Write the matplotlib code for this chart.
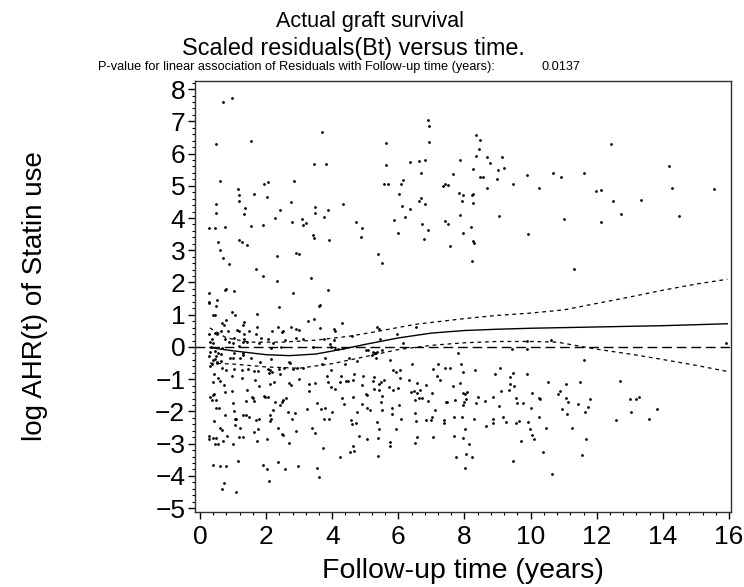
import matplotlib
matplotlib.use("Agg")
import matplotlib.pyplot as plt
from matplotlib import font_manager
from matplotlib.ticker import MultipleLocator

_names = {f.name for f in font_manager.fontManager.ttflist}
NARROW = "Liberation Sans Narrow" in _names
BASE = "Liberation Sans"
TITLE_FONT = "Liberation Sans Narrow" if NARROW else BASE

plt.rcParams["font.family"] = [BASE, "DejaVu Sans"]

# ---- data -----------------------------------------------------------------
points = [
    # upper cluster, left
    (0.69, 7.60), (0.98, 7.73), (0.47, 6.29), (1.55, 6.40), (3.70, 6.68), (3.44, 5.69), (3.82, 5.67),
    (0.60, 5.14), (1.93, 5.05), (2.06, 5.11), (2.84, 5.14), (1.14, 4.89), (1.19, 4.72), (1.64, 4.73),
    (2.02, 4.64), (0.48, 4.42), (1.18, 4.52), (2.76, 4.49), (3.49, 4.35), (4.32, 4.42), (1.37, 4.30),
    (2.43, 4.24), (3.87, 4.24), (0.49, 4.15), (1.34, 4.11), (3.48, 4.15), (3.74, 4.02), (2.27, 4.00),
    (3.10, 3.98), (2.78, 3.88), (3.20, 3.84), (4.72, 3.87), (0.27, 3.70), (0.46, 3.68), (0.75, 3.72),
    (1.53, 3.75), (1.90, 3.78), (3.11, 3.77), (4.89, 3.70),
    # upper cluster, middle
    (6.91, 7.04), (6.92, 6.84), (5.64, 6.32), (6.94, 6.35), (8.36, 6.56), (8.46, 6.41), (8.45, 6.15),
    (8.36, 5.91), (8.68, 5.90), (9.14, 5.88), (7.85, 5.80), (6.34, 5.74), (6.63, 5.77), (6.81, 5.81),
    (8.76, 5.71), (5.64, 5.63), (8.27, 5.51), (9.02, 5.49), (9.21, 5.54), (6.69, 5.39), (7.64, 5.36),
    (8.48, 5.27), (8.55, 5.28), (9.89, 5.32), (10.69, 5.39), (6.14, 5.19), (8.99, 5.20), (5.56, 5.07),
    (5.69, 5.07), (6.09, 5.05), (7.41, 5.07), (7.35, 4.99), (7.51, 5.02), (9.47, 5.04), (8.68, 4.94),
    (10.24, 4.93), (6.02, 4.76), (7.83, 4.79), (7.95, 4.72), (8.25, 4.75), (8.23, 4.71), (6.68, 4.63),
    (6.63, 4.53), (6.80, 4.43), (7.92, 4.52), (8.27, 4.47), (6.10, 4.37), (6.34, 4.27), (7.85, 4.10),
    (9.03, 4.05), (6.21, 4.03), (5.87, 3.94), (7.41, 3.91), (7.50, 3.82), (6.72, 3.80), (8.20, 3.72),
    (6.90, 3.63),
    # upper cluster, right
    (12.43, 6.30), (14.20, 5.62), (10.91, 5.27), (11.61, 5.39), (11.98, 4.84), (12.13, 4.86),
    (14.28, 4.94), (15.55, 4.90), (12.48, 4.52), (13.34, 4.57), (12.72, 4.13), (14.48, 4.07),
    (11.00, 3.96), (12.13, 3.89),
    # middle band, left
    (0.55, 3.26), (1.19, 3.31), (1.28, 3.26), (1.41, 3.15), (3.42, 3.47), (3.45, 3.39), (3.89, 3.31),
    (4.86, 3.41), (0.62, 3.00), (0.69, 2.77), (0.87, 2.58), (2.34, 2.83), (2.91, 2.90), (3.00, 2.87),
    (1.69, 2.41), (1.90, 2.20), (2.34, 2.05), (3.36, 2.13), (3.86, 1.77), (0.79, 1.80), (0.76, 1.77),
    (1.02, 1.74), (0.28, 1.67), (2.80, 1.66), (0.27, 1.40), (0.28, 1.35), (0.51, 1.45), (0.50, 1.27),
    (2.40, 1.23), (3.60, 1.26), (3.63, 1.29), (0.40, 0.99), (0.45, 0.99), (0.96, 1.07), (1.05, 1.00),
    (1.73, 1.03), (0.80, 0.85), (3.27, 0.81), (3.45, 0.86), (4.30, 0.75), (0.67, 0.73), (1.34, 0.76),
    (1.29, 0.68), (0.72, 0.68), (1.72, 0.62), (2.35, 0.62), (2.76, 0.62), (2.91, 0.57), (3.01, 0.54),
    (3.63, 0.59), (4.04, 0.56), (4.08, 0.49), (0.63, 0.51), (0.28, 0.39), (0.45, 0.44), (0.51, 0.41),
    (1.11, 0.54), (1.17, 0.51), (0.84, 0.49), (1.47, 0.49), (2.17, 0.51), (2.52, 0.51), (2.47, 0.45),
    (1.32, 0.39), (1.70, 0.41), (1.34, 0.24), (1.41, 0.16), (1.04, 0.28), (0.75, 0.26), (0.35, 0.24),
    (1.84, 0.28), (2.05, 0.26), (2.58, 0.22), (2.91, 0.29), (3.11, 0.26), (3.76, 0.26), (4.06, 0.23),
    (4.61, 0.34), (0.89, 0.14), (0.99, 0.13), (0.40, 0.12), (0.29, 0.14), (1.79, 0.13), (1.31, 0.14),
    (2.21, 0.13), (0.33, 0.00), (1.17, 0.04), (0.66, -0.03), (2.14, -0.02), (2.45, -0.01), (3.41, 0.00),
    (3.94, 0.08), (3.97, -0.01), (4.07, -0.06), (4.16, -0.07), (4.33, -0.03), (5.01, -0.11),
    (5.07, -0.08), (5.24, -0.16), (5.30, -0.19), (0.31, -0.15), (0.45, -0.13), (0.54, -0.18),
    (0.63, -0.23), (0.27, -0.27), (0.50, -0.27), (1.03, -0.20), (1.29, -0.20), (1.31, -0.25),
    (0.45, -0.38), (0.40, -0.40), (0.90, -0.34), (0.99, -0.34), (1.22, -0.33), (1.54, -0.33),
    (0.64, -0.45), (0.53, -0.48), (1.83, -0.46), (2.14, -0.38), (2.68, -0.46), (2.71, -0.51),
    (3.79, -0.34), (4.52, -0.33), (4.74, -0.44), (5.19, -0.25), (0.31, -0.59), (0.37, -0.54),
    (0.51, -0.51), (0.66, -0.65), (0.80, -0.70), (1.03, -0.69), (1.27, -0.70), (1.45, -0.69),
    (1.62, -0.74), (1.75, -0.74), (2.05, -0.68), (2.11, -0.73), (2.18, -0.77), (2.10, -0.80),
    (2.40, -0.68), (2.55, -0.66), (2.80, -0.69), (2.93, -0.65), (3.12, -0.66), (3.68, -0.54),
    (3.95, -0.71), (4.38, -0.54), (0.43, -0.84), (4.66, -0.84),
    # middle band, centre and right
    (6.00, 3.52), (6.79, 3.35), (7.94, 3.55), (8.26, 3.30), (8.28, 3.24), (7.56, 3.12), (9.93, 3.50),
    (5.38, 2.87), (5.52, 2.61), (8.22, 2.66), (5.34, 0.62), (5.41, 0.56), (6.52, 0.61), (5.96, 0.41),
    (5.43, 0.26), (6.13, 0.13), (5.34, -0.17), (5.51, -0.08), (5.31, -0.35), (7.79, -0.20),
    (9.45, -0.05), (9.89, -0.07), (9.88, 0.20), (10.61, 0.23), (5.75, -0.40), (6.40, -0.54),
    (7.21, -0.54), (7.42, -0.64), (7.55, -0.64), (7.89, -0.53), (7.05, -0.68), (5.85, -0.71),
    (5.93, -0.77), (6.05, -0.71), (7.95, -0.77), (8.32, -0.70), (9.07, -0.64), (9.47, -0.82),
    (9.89, -0.84), (8.93, -0.84), (11.30, 2.41), (11.60, -0.40), (15.90, 0.11),
    # lower cluster, left
    (0.55, -0.97), (0.62, -1.06), (0.39, -1.08), (0.72, -1.17), (1.26, -0.96), (0.96, -0.91),
    (1.66, -1.01), (1.80, -1.21), (2.12, -1.16), (2.24, -1.08), (2.41, -0.84), (2.69, -1.13),
    (2.75, -1.17), (3.01, -0.99), (3.31, -1.16), (3.29, -1.38), (3.47, -1.13), (3.83, -0.90),
    (3.86, -1.08), (4.28, -0.89), (4.24, -1.08), (4.42, -1.07), (4.47, -1.05), (4.64, -1.02),
    (4.92, -0.91), (4.89, -1.19), (5.22, -1.06), (3.96, -1.25), (4.09, -1.31), (4.29, -1.57),
    (4.35, -1.77), (4.64, -1.55), (5.02, -1.46), (5.05, -1.48), (5.27, -1.31), (4.89, -1.77),
    (5.05, -1.88), (5.15, -1.96), (4.76, -2.02), (4.57, -2.27), (4.60, -2.39), (4.72, -2.36),
    (4.81, -2.75), (5.05, -2.86), (4.62, -3.08), (4.65, -3.22), (4.53, -3.26), (4.23, -3.40),
    (0.30, -1.56), (0.39, -1.49), (0.42, -1.45), (0.35, -1.66), (0.50, -1.66), (0.49, -1.88),
    (0.57, -1.88), (0.75, -1.41), (0.97, -1.38), (1.00, -1.75), (1.42, -1.32), (1.57, -1.54),
    (1.60, -1.59), (1.40, -1.69), (1.63, -1.69), (1.93, -1.52), (1.96, -1.54), (2.07, -1.56),
    (2.26, -1.70), (2.43, -1.79), (2.51, -1.65), (2.47, -1.71), (2.59, -1.57), (0.75, -2.12),
    (1.04, -2.00), (1.29, -2.11), (1.39, -2.12), (1.48, -2.18), (1.05, -2.23), (1.09, -2.22),
    (0.42, -2.31), (1.07, -2.43), (1.22, -2.52), (0.61, -2.52), (0.66, -2.58), (0.82, -2.77),
    (1.01, -3.01), (0.26, -2.77), (0.26, -2.85), (0.39, -2.83), (0.49, -2.81), (0.70, -2.91),
    (0.45, -3.02), (0.56, -3.02), (1.18, -2.79), (1.29, -2.79), (1.69, -2.27), (1.78, -2.22),
    (1.63, -2.64), (1.76, -2.53), (1.71, -2.93), (2.02, -2.87), (2.11, -2.10), (2.15, -2.23),
    (2.12, -2.29), (2.21, -1.96), (2.37, -2.50), (2.49, -2.70), (2.52, -2.73), (2.67, -2.03),
    (2.78, -2.23), (2.87, -2.06), (2.91, -2.60), (2.70, -2.99), (3.23, -1.94), (3.38, -2.51),
    (3.47, -2.66), (3.53, -1.73), (3.66, -1.94), (3.79, -1.89), (3.76, -2.22), (3.90, -2.25),
    (3.99, -2.02), (3.73, -3.13), (0.40, -3.65), (0.61, -3.68), (0.78, -3.70), (1.14, -3.53),
    (1.91, -3.66), (2.03, -3.79), (2.37, -3.56), (2.56, -3.79), (2.98, -3.69), (3.55, -3.76),
    (3.59, -4.03), (2.09, -4.16), (0.73, -4.22), (0.66, -4.42), (1.08, -4.50),
    # lower cluster, centre
    (5.26, -0.94), (5.41, -1.15), (5.47, -1.09), (5.56, -1.03), (5.42, -1.34), (5.51, -1.53),
    (5.46, -1.72), (5.50, -1.97), (5.36, -2.34), (5.42, -2.56), (5.39, -2.82), (5.38, -3.37),
    (5.73, -1.24), (5.85, -1.34), (5.98, -1.27), (6.04, -0.95), (6.02, -1.79), (5.81, -1.89),
    (5.80, -2.09), (6.09, -2.22), (5.94, -2.54), (5.74, -2.95), (5.75, -3.06), (6.31, -1.03),
    (6.56, -1.11), (6.38, -1.40), (6.48, -1.37), (6.56, -1.42), (6.64, -1.32), (6.62, -1.57),
    (6.70, -1.58), (6.50, -1.66), (6.84, -1.19), (7.01, -1.44), (6.90, -1.68), (6.49, -2.05),
    (6.54, -2.29), (6.85, -2.28), (6.98, -2.28), (7.02, -2.17), (6.56, -2.79), (6.50, -2.98),
    (7.06, -2.79), (7.12, -1.96), (7.17, -0.90), (7.26, -1.04), (7.37, -2.27), (7.38, -2.35),
    (7.44, -1.72), (7.47, -1.72), (7.66, -1.20), (7.85, -1.11), (7.71, -1.66), (7.69, -2.16),
    (7.92, -2.18), (7.68, -2.77), (7.74, -3.40), (7.94, -1.79), (8.00, -1.72), (7.97, -1.43),
    (8.03, -1.45), (8.08, -1.41), (8.06, -1.61), (8.03, -2.54), (7.95, -2.81), (8.13, -3.01),
    (8.05, -3.33), (8.24, -3.42), (8.02, -3.77), (8.30, -2.25), (8.36, -1.75), (8.41, -1.55),
    (8.62, -1.69), (8.66, -2.44), (8.87, -2.25), (8.87, -2.37), (8.86, -1.55), (9.03, -1.84),
    (9.09, -1.36), (9.15, -2.16), (9.25, -2.33), (9.36, -1.34), (9.39, -1.16), (9.51, -1.20),
    (9.37, -0.94), (9.47, -3.55), (9.56, -1.58), (9.58, -1.75), (9.78, -1.75), (9.57, -2.37),
    (9.65, -2.30), (9.71, -2.91), (9.93, -2.34), (9.99, -2.54), (10.00, -1.90), (10.05, -1.42),
    (10.05, -2.74), (10.10, -2.87), (10.25, -1.59), (10.29, -1.60), (10.24, -2.16), (10.36, -3.26),
    (10.48, -2.50), (10.53, -1.10), (10.66, -3.95),
    # lower cluster, right
    (11.06, -1.14), (11.49, -1.10), (12.70, -1.07), (10.90, -1.36), (10.82, -1.46), (11.07, -1.57),
    (11.14, -1.72), (11.79, -1.62), (11.44, -1.76), (11.73, -1.86), (10.95, -1.92), (11.65, -2.02),
    (11.11, -2.09), (13.02, -1.61), (13.20, -1.62), (13.27, -1.56), (13.05, -2.02), (12.58, -2.28),
    (13.57, -2.25), (13.81, -1.94), (11.26, -2.51), (11.67, -2.84), (11.54, -3.35),
]
follow_up_years = [p[0] for p in points]
scaled_residual = [p[1] for p in points]

# smoothed log AHR(t) and its pointwise band
fit_time = [0.3, 1.0, 2.0, 2.7, 3.5, 4.3, 5.0, 6.0, 7.0, 8.0, 9.0, 10.0, 11.0, 12.0, 13.0, 14.0, 15.0, 15.95]
fit_value = [-0.02, -0.12, -0.24, -0.27, -0.22, -0.07, 0.08, 0.28, 0.43, 0.51, 0.55, 0.58, 0.60, 0.62,
             0.64, 0.66, 0.69, 0.72]
upper_time = [0.3, 0.8, 1.5, 2.5, 3.5, 4.5, 5.3, 6.5, 8.0, 9.0, 10.0, 11.0, 12.0, 13.0, 14.0, 15.0, 15.95]
upper_value = [0.59, 0.28, 0.15, 0.15, 0.21, 0.33, 0.47, 0.70, 0.88, 0.98, 1.05, 1.15, 1.35, 1.55, 1.76,
               1.95, 2.10]
lower_time = [0.3, 1.0, 2.0, 3.0, 4.0, 5.0, 6.0, 7.0, 8.0, 9.0, 10.0, 10.8, 12.0, 13.0, 14.0, 15.0, 15.95]
lower_value = [-0.50, -0.53, -0.62, -0.66, -0.52, -0.30, -0.08, 0.05, 0.13, 0.17, 0.17, 0.15, -0.07,
               -0.22, -0.39, -0.57, -0.76]

x_ticks = list(range(0, 17, 2))
y_ticks = list(range(-5, 9))

title_1 = "Actual graft survival"
title_2 = "Scaled residuals(Bt) versus time."
subtitle = "P-value for linear association of Residuals with Follow-up time (years):"
p_value = "0.0137"
x_label = "Follow-up time (years)"
y_label = "log AHR(t) of Statin use"

# ---- figure ---------------------------------------------------------------
W, H = 744, 587
fig = plt.figure(figsize=(W / 100, H / 100), dpi=100)
ax = fig.add_axes([195 / W, 1 - 512 / H, (731 - 195) / W, (512 - 81) / H])

ax.axhline(0, color="black", lw=1.0, ls=(0, (7, 3.5)), zorder=1)
ax.plot(upper_time, upper_value, color="black", lw=0.9, ls=(0, (3, 3)), zorder=2)
ax.plot(lower_time, lower_value, color="black", lw=0.9, ls=(0, (3, 3)), zorder=2)
ax.plot(fit_time, fit_value, color="black", lw=1.0, zorder=2)
ax.plot(follow_up_years, scaled_residual, ls="none", marker="o", ms=2.0, mew=0,
        color="black", zorder=3)

ax.set_xlim(-0.15, 16.06)
ax.set_ylim(-5.12, 8.25)
ax.set_xticks(x_ticks)
ax.set_yticks(y_ticks)
ax.xaxis.set_minor_locator(MultipleLocator(0.4))
ax.yaxis.set_minor_locator(MultipleLocator(0.2))
ax.tick_params(which="major", direction="out", length=5, width=1, labelsize=19, pad=2, colors="black")
ax.tick_params(which="minor", direction="out", length=2.5, width=0.8)
ax.tick_params(axis="x", which="major", pad=4)
for s in ax.spines.values():
    s.set_linewidth(1.0)
    s.set_color("#303030")

ax.set_xlabel(x_label, fontsize=20.5, labelpad=7)
fig.text(35 / W, 1 - 296 / H, y_label, rotation=90, fontsize=20, ha="center", va="center")

if NARROW:
    s1, s2, s3 = 17.5, 19.2, 10.5
else:
    s1, s2, s3 = 15.5, 16.8, 9.2
fig.text(370 / W, 1 - 27 / H, title_1, family=[TITLE_FONT, BASE], fontsize=s1, ha="center", va="baseline")
fig.text(353 / W, 1 - 55 / H, title_2, family=[TITLE_FONT, BASE], fontsize=s2, ha="center", va="baseline")
fig.text(98 / W, 1 - 70 / H, subtitle, family=[TITLE_FONT, BASE], fontsize=s3,
         ha="left", va="baseline")
fig.text(541 / W, 1 - 70 / H, p_value, family=[TITLE_FONT, BASE], fontsize=s3,
         ha="left", va="baseline")

fig.savefig("out.png", dpi=100)
